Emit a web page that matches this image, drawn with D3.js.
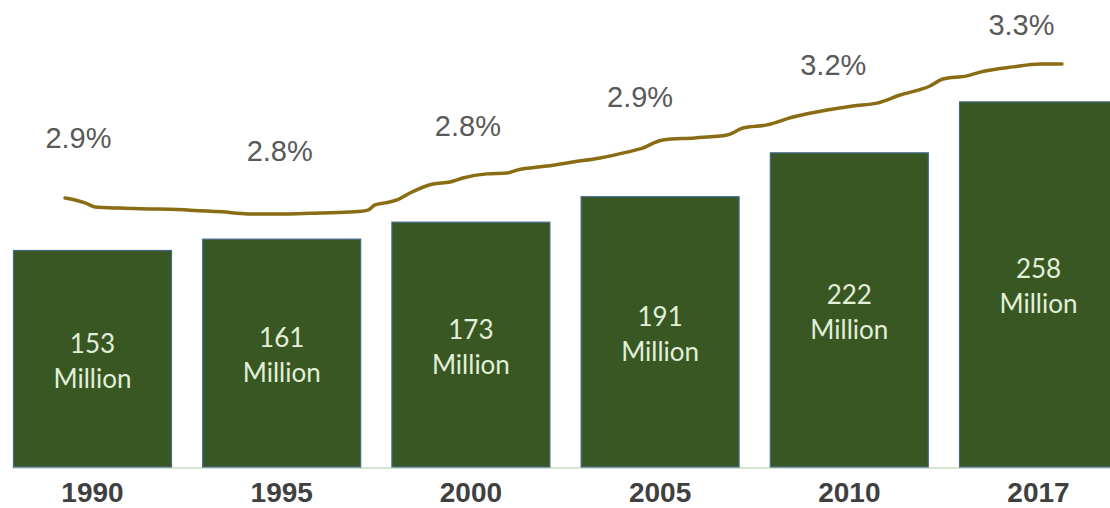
<!DOCTYPE html>
<html>
<head>
<meta charset="utf-8">
<script src="https://cdn.jsdelivr.net/npm/d3@7"></script>
<style>
  html, body { margin: 0; padding: 0; background: #ffffff; }
  svg { display: block; }
</style>
</head>
<body>
<svg id="chart" width="1110" height="508"></svg>
<script>
// ---- data ----
const years = ["1990", "1995", "2000", "2005", "2010", "2017"];
const millions = [153, 161, 173, 191, 222, 258];
const shareLabels = ["2.9%", "2.8%", "2.8%", "2.9%", "3.2%", "3.3%"];
// hand-drawn trend of the share: [category position, percent]
const trendPos = [-0.14, -0.087, -0.034, 0.019, 0.151, 0.336, 0.521, 0.69, 0.828, 1.039, 1.208, 1.393, 1.462, 1.499, 1.552, 1.616, 1.684, 1.806, 1.896, 1.964, 2.091, 2.197, 2.25, 2.409, 2.546, 2.689, 2.832, 2.901, 3.022, 3.192, 3.361, 3.445, 3.572, 3.71, 3.89, 4.027, 4.154, 4.276, 4.434, 4.503, 4.63, 4.699, 4.873, 5.016, 5.132];
const trendPct = [2.845, 2.838, 2.828, 2.814, 2.81, 2.807, 2.803, 2.797, 2.79, 2.79, 2.793, 2.797, 2.803, 2.821, 2.828, 2.838, 2.862, 2.893, 2.9, 2.914, 2.928, 2.931, 2.941, 2.955, 2.969, 2.983, 3.003, 3.014, 3.045, 3.052, 3.062, 3.086, 3.097, 3.124, 3.148, 3.162, 3.172, 3.2, 3.231, 3.255, 3.266, 3.279, 3.297, 3.307, 3.307];

// ---- layout ----
const baseY = 467;
const labelDx = [-14, -2, -3, -20, -16, -17];   // nudges of the share labels from bar centre
const labelGap = [57, 53, 41, 35, 32, 29];      // distance of share labels above the trend line

const svg = d3.select("#chart");

const x = d3.scaleBand().domain(years).range([13.5, 1117.5]).paddingInner(0.165).paddingOuter(0);
const y = d3.scaleLinear().domain([0, 330]).range([baseY, 0]);

const cx = i => x(years[i]) + x.bandwidth() / 2;
const xPos = d3.scaleLinear().domain([0, 5]).range([91.5, 1037]);
const yPct = d3.scaleLinear().domain([2.5, 3.5]).range([298, 8]);

// baseline
svg.append("line")
  .attr("x1", 12).attr("x2", 1110)
  .attr("y1", baseY + 1).attr("y2", baseY + 1)
  .attr("stroke", "#c9dcbc").attr("stroke-width", 1.5);

// bars
const data = years.map((yr, i) => ({ yr, v: millions[i], i }));
svg.selectAll("rect.bar").data(data).join("rect")
  .attr("class", "bar")
  .attr("x", d => x(d.yr))
  .attr("y", d => y(d.v))
  .attr("width", x.bandwidth())
  .attr("height", d => baseY - y(d.v))
  .attr("fill", "#385723")
  .attr("stroke", "#46698c")
  .attr("stroke-width", 1.2);

// bar value labels
const lab = svg.selectAll("text.val").data(data).join("text")
  .attr("class", "val")
  .attr("text-anchor", "middle")
  .attr("font-family", "Lato, 'Open Sans', sans-serif")
  .attr("font-size", 26)
  .attr("fill", "#e2efd9");
lab.append("tspan")
  .attr("x", d => cx(d.i))
  .attr("y", d => (y(d.v) + baseY) / 2 - 6)
  .text(d => d.v);
lab.append("tspan")
  .attr("x", d => cx(d.i))
  .attr("y", d => (y(d.v) + baseY) / 2 + 29)
  .text("Million");

// x axis labels
const xAxis = d3.axisBottom(x).tickSize(0).tickPadding(0);
const gx = svg.append("g").attr("transform", `translate(0,${baseY})`).call(xAxis);
gx.select(".domain").remove();
gx.selectAll("text")
  .attr("y", 35)
  .attr("dy", 0)
  .attr("font-family", "'Liberation Sans', Arial, sans-serif")
  .attr("font-weight", "bold")
  .attr("font-size", 28)
  .attr("fill", "#404040");

// trend line
const trend = trendPos.map((p, i) => [p, trendPct[i]]);
const lineGen = d3.line().x(d => xPos(d[0])).y(d => yPct(d[1])).curve(d3.curveMonotoneX);
svg.append("path")
  .datum(trend)
  .attr("d", lineGen)
  .attr("fill", "none")
  .attr("stroke", "#8a6c14")
  .attr("stroke-width", 3.5)
  .attr("stroke-linejoin", "round")
  .attr("stroke-linecap", "round");

// trend value at a category position
function trendAt(p) {
  const b = d3.bisector(d => d).left(trendPos, p);
  const i1 = Math.min(Math.max(b, 1), trendPos.length - 1);
  const i0 = i1 - 1;
  const t = (p - trendPos[i0]) / (trendPos[i1] - trendPos[i0]);
  return trendPct[i0] + t * (trendPct[i1] - trendPct[i0]);
}

// share labels
svg.selectAll("text.pct").data(shareLabels).join("text")
  .attr("class", "pct")
  .attr("text-anchor", "middle")
  .attr("x", (d, i) => cx(i) + labelDx[i])
  .attr("y", (d, i) => yPct(trendAt(i)) - labelGap[i])
  .attr("font-family", "'Liberation Sans', Arial, sans-serif")
  .attr("font-size", 29)
  .attr("fill", "#595959")
  .text(d => d);
</script>
</body>
</html>
